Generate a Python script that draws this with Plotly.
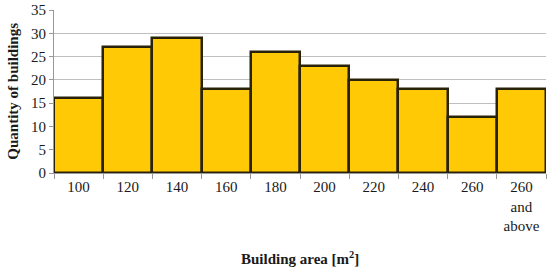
import plotly.graph_objects as go

categorias = ["100", "120", "140", "160", "180", "200", "220", "240", "260", "260<br>and<br>above"]
cantidad = [16, 27, 29, 18, 26, 23, 20, 18, 12, 18]
ticks_y = [0, 5, 10, 15, 20, 25, 30, 35]

fuente = "Liberation Serif"

fig = go.Figure(go.Bar(
    x=categorias,
    y=cantidad,
    marker=dict(color="#FFCA05", line=dict(color="#2a2208", width=2.5)),
))

fig.update_layout(
    width=550,
    height=271,
    margin=dict(l=54, r=4, t=10, b=98, autoexpand=False),
    paper_bgcolor="white",
    plot_bgcolor="white",
    bargap=0,
    showlegend=False,
    font=dict(family=fuente, size=15, color="#1a1a1a"),
    xaxis=dict(
        type="category",
        automargin=False,
        tickson="boundaries",
        ticks="outside",
        ticklen=5,
        tickcolor="#999999",
        showline=True,
        linecolor="#999999",
        linewidth=1,
        showgrid=False,
        tickfont=dict(family=fuente, size=15),
    ),
    yaxis=dict(
        range=[0, 35],
        automargin=False,
        tickvals=ticks_y,
        ticks="outside",
        ticklen=4,
        tickcolor="#999999",
        showline=True,
        linecolor="#999999",
        linewidth=1,
        gridcolor="#bfbfbf",
        gridwidth=1,
        zeroline=False,
        tickfont=dict(family=fuente, size=15),
    ),
    annotations=[
        dict(text="<b>Building area [m<sup>2</sup>]</b>", xref="paper", yref="paper",
             x=0.5, y=-0.52, xanchor="center", yanchor="middle", showarrow=False,
             font=dict(family=fuente, size=15)),
        dict(text="<b>Quantity of buildings</b>", xref="paper", yref="paper",
             x=-0.085, y=0.5, xanchor="center", yanchor="middle", textangle=-90,
             showarrow=False, font=dict(family=fuente, size=15)),
    ],
)

# quitar el margen del body para que la figura quede en (0, 0)
fig.write_html("out.html", config={"displayModeBar": False},
               post_script="document.body.style.margin='0';")
